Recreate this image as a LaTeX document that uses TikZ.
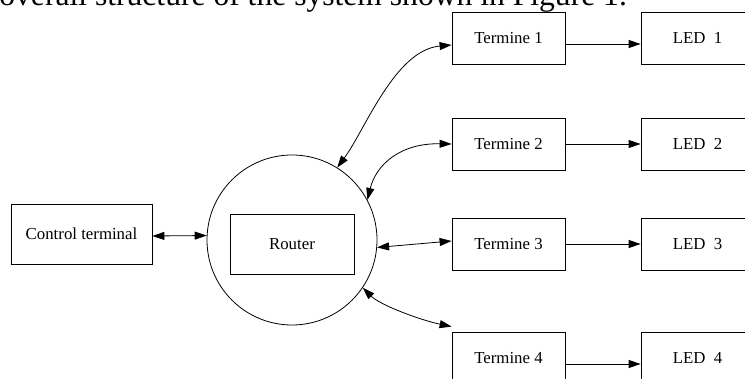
\documentclass[tikz,border=0pt]{standalone}
\usepackage{fontspec}
\setmainfont{Liberation Serif}
\usetikzlibrary{arrows.meta}
\begin{document}
\begin{tikzpicture}[x=1pt,y=-1pt,
  line width=0.8pt,
  >={Triangle[length=12pt,width=8pt]},
  lbl/.style={font=\fontsize{16.8}{20}\selectfont},
  box/.style={draw,rectangle,inner sep=0pt,lbl},
  tbox/.style={box,minimum width=113pt,minimum height=52pt},
  conn/.style={<->},
  feed/.style={->}]
\useasboundingbox (0,0) rectangle (745,379);
\clip (0,0) rectangle (745,379);
% caption fragment at top
\node[anchor=base west,inner sep=0pt,font=\fontsize{31.6}{36}\selectfont] (cap) at (-1,6) {overall structure of the system shown in Figure 1.};
% nodes
\node[box,minimum width=141pt,minimum height=60pt] (ct) at (81.5,234) {Control terminal};
\node[draw,circle,minimum size=170pt,inner sep=0pt] (router) at (292,240) {};
\node[box,minimum width=124pt,minimum height=60pt] (rbox) at (292,244) {Router};
\node[tbox] (t1) at (508.5,38) {Termine 1};
\node[tbox] (t2) at (508.5,144) {Termine 2};
\node[tbox] (t3) at (508.5,244) {Termine 3};
\node[tbox] (t4) at (508.5,358) {Termine 4};
\node[tbox] (l1) at (697.5,38) {LED~~1};
\node[tbox] (l2) at (697.5,144) {LED~~2};
\node[tbox] (l3) at (697.5,244) {LED~~3};
\node[tbox] (l4) at (697.5,358) {LED~~4};
% connectors
\draw[conn] ([yshift=-2pt]ct.east) -- (router.177);
\draw[conn] (router.58) .. controls (365,130) and (395,50) .. ([yshift=-7pt]t1.west);
\draw[conn] (router.28) .. controls (376,165) and (400,143) .. (t2.west);
\draw[conn] (router.-5) -- ([yshift=3pt]t3.west);
\draw[conn] (router.-34) .. controls (380,305) and (420,320) .. ([yshift=5pt]t4.north west);
\draw[feed] ([yshift=-6pt]t1.east) -- ([yshift=-6pt]l1.west);
\draw[feed] (t2.east) -- (l2.west);
\draw[feed] (t3.east) -- (l3.west);
\draw[feed] ([yshift=-6pt]t4.east) -- ([yshift=-6pt]l4.west);
\end{tikzpicture}
\end{document}
